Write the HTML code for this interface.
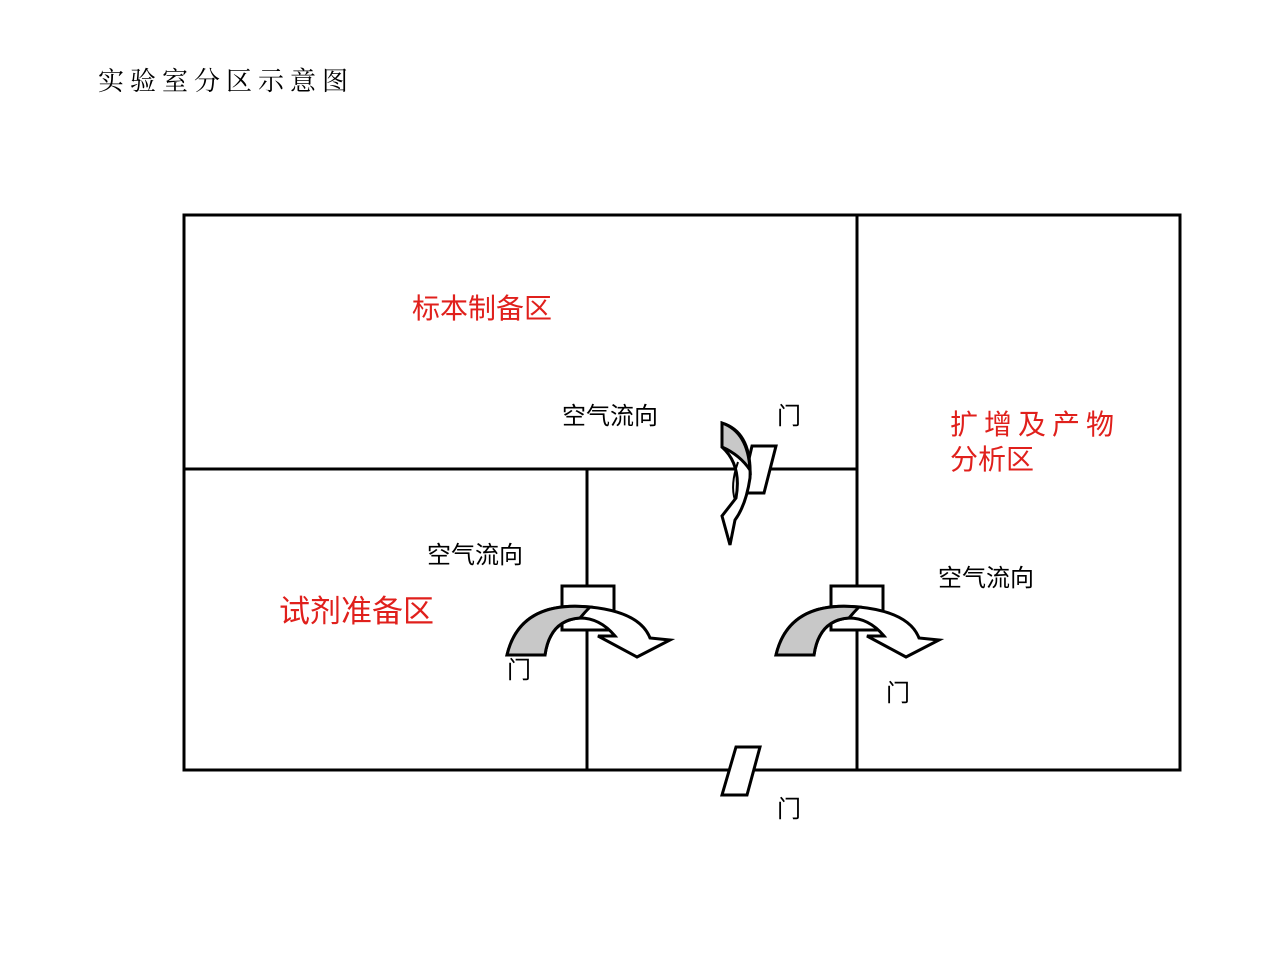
<!DOCTYPE html>
<html><head><meta charset="utf-8"><style>
body{margin:0;background:#fff;width:1280px;height:960px;overflow:hidden}
svg{position:absolute;left:0;top:0}
text{font-family:"Liberation Sans","Noto Sans CJK SC",sans-serif}
</style></head><body>
<svg width="1280" height="960" viewBox="0 0 1280 960">
<text x="98" y="90" font-size="26" style="font-family:'Noto Serif CJK SC',serif" letter-spacing="6">实验室分区示意图</text>
<g stroke="#000" stroke-width="3" fill="none">
<rect x="184" y="215" width="996" height="555"/>
<line x1="857" y1="215" x2="857" y2="770"/>
<line x1="184" y1="469" x2="857" y2="469"/>
<line x1="587" y1="469" x2="587" y2="770"/>
</g>
<g stroke="#000" stroke-width="3" stroke-linejoin="miter">
<rect x="562" y="586" width="52" height="44" fill="#fff"/>
<path d="M507,655 Q520,600 590,607 Q640,612 650,638 L670,640 L637,657 L598,636 L615,636 Q600,618 580,618 Q550,620 545,655 Z" fill="#fff"/>
<path d="M507,655 Q520,600 590,607 Q585,612 580,618 Q550,620 545,655 Z" fill="#c8c8c8"/>
<rect x="831" y="586" width="52" height="44" fill="#fff"/>
<path d="M776,655 Q789,600 859,607 Q909,612 919,638 L939,640 L906,657 L867,636 L884,636 Q869,618 849,618 Q819,620 814,655 Z" fill="#fff"/>
<path d="M776,655 Q789,600 859,607 Q854,612 849,618 Q819,620 814,655 Z" fill="#c8c8c8"/>
<path d="M752,446 L776,446 L764,493 L741,493 Z" fill="#fff"/>
<path d="M722,423 Q752,432 750,478 Q746,505 735,520 L730,545 L722,516 L736,498 Q742,465 722,447 Z" fill="#fff"/>
<path d="M722,423 Q748,432 750,470 Q740,455 722,447 Z" fill="#c8c8c8"/>
<path d="M738,462 Q730,485 735,500" fill="none" stroke-width="2"/>
<path d="M736,747 L760,747 L747,795 L722,795 Z" fill="#fff"/>
</g>
<g fill="#e0201c">
<text x="412" y="318" font-size="28">标本制备区</text>
<text x="279" y="622" font-size="31">试剂准备区</text>
<text x="950" y="434" font-size="28" letter-spacing="6">扩增及产物</text>
<text x="950" y="469" font-size="28">分析区</text>
</g>
<g font-size="24" fill="#000">
<text x="562" y="424">空气流向</text>
<text x="427" y="563">空气流向</text>
<text x="938" y="586">空气流向</text>
<text x="777" y="424">门</text>
<text x="507" y="678">门</text>
<text x="886" y="701">门</text>
<text x="777" y="817">门</text>
</g>
</svg>
</body></html>
